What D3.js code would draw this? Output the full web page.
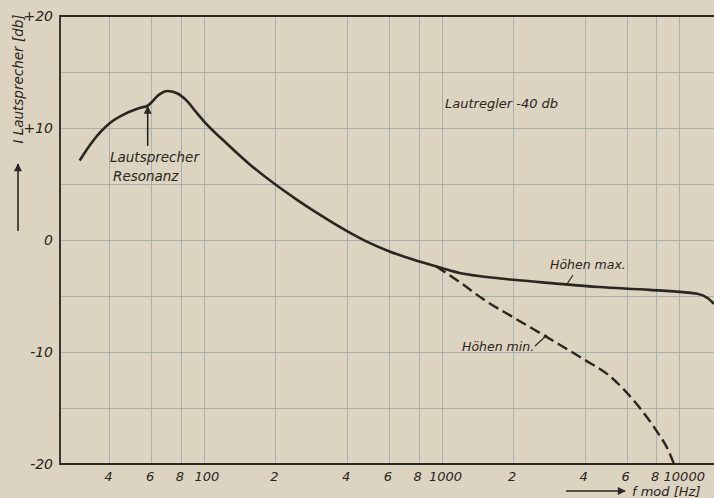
<!DOCTYPE html>
<html>
<head>
<meta charset="utf-8">
<script src="https://cdn.jsdelivr.net/npm/d3@7"></script>
<style>
  html, body { margin: 0; padding: 0; background: #dcd3c0; }
  svg { display: block; }
</style>
</head>
<body>
<svg id="chart" width="714" height="498"></svg>
<script>
// Font used for all labels (italic, like the stencil lettering)
const fontFamily = "'DejaVu Sans', 'Liberation Sans', sans-serif";
const ink = "#2a2620";

const width = 714, height = 498;
const svg = d3.select("#chart");

// Solid curve: "Höhen max." (frequency in Hz, level in dB)
const maxFreq = [30, 34, 40, 47, 54, 58, 65, 70, 77, 85, 92, 100, 125, 160, 200, 250, 300, 400, 500, 600, 800, 1000, 1190, 1550, 2000, 2900, 4600, 7500, 11900, 13200, 14000];
const maxDb   = [7.1, 8.8, 10.4, 11.3, 11.8, 12.0, 13.0, 13.3, 13.1, 12.4, 11.5, 10.6, 8.6, 6.55, 4.95, 3.5, 2.4, 0.8, -0.28, -1.0, -1.9, -2.5, -2.95, -3.3, -3.55, -3.85, -4.2, -4.45, -4.8, -5.2, -5.7];

// Dashed curve: "Höhen min."
const minFreq = [950, 1200, 1500, 2000, 3000, 4000, 5000, 6000, 7000, 8000, 9000, 9500];
const minDb   = [-2.36, -3.8, -5.3, -6.9, -9.1, -10.7, -12.0, -13.6, -15.3, -17.0, -18.8, -20];

// Axis ticks
const xTicks = [40, 60, 80, 100, 200, 400, 600, 800, 1000, 2000, 4000, 6000, 8000, 10000];
const xTickLabels = ["4", "6", "8", "100", "2", "4", "6", "8", "1000", "2", "4", "6", "8", "10000"];
const yGrid = [-20, -15, -10, -5, 0, 5, 10, 15, 20];
const yTicks = [20, 10, 0, -10, -20];
const yTickLabels = ["+20", "+10", "0", "-10", "-20"];

// Scales
const x = d3.scaleLog().domain([24.8, 14000]).range([60, 714]);
const y = d3.scaleLinear().domain([-20, 20]).range([464, 16]);

// Grid
const grid = svg.append("g").attr("stroke", "#9ea8ab").attr("stroke-width", 1).attr("opacity", 0.8);
grid.selectAll("line.v")
  .data(xTicks)
  .enter()
  .append("line")
  .attr("x1", d => Math.round(x(d)) + 0.5)
  .attr("x2", d => Math.round(x(d)) + 0.5)
  .attr("y1", y(20))
  .attr("y2", y(-20));
grid.selectAll("line.h")
  .data(yGrid)
  .enter()
  .append("line")
  .attr("x1", x.range()[0])
  .attr("x2", width)
  .attr("y1", d => Math.round(y(d)) + 0.5)
  .attr("y2", d => Math.round(y(d)) + 0.5);

// Frame: left, bottom, top
svg.append("path")
  .attr("d", `M${width},${y(20)} H${x.range()[0]} V${y(-20)} H${width}`)
  .attr("fill", "none")
  .attr("stroke", ink)
  .attr("stroke-width", 1.8);

// Y tick labels
svg.selectAll("text.ytick")
  .data(yTicks)
  .enter()
  .append("text")
  .attr("x", 53)
  .attr("y", d => y(d) + 5)
  .attr("text-anchor", "end")
  .attr("font-family", fontFamily)
  .attr("font-style", "italic")
  .attr("font-size", "14px")
  .attr("fill", ink)
  .text((d, i) => yTickLabels[i]);

// X tick labels
svg.selectAll("text.xtick")
  .data(xTicks)
  .enter()
  .append("text")
  .attr("x", (d, i) => x(d) + (xTickLabels[i].length > 1 ? xTickLabels[i].length : -1))
  .attr("y", 481)
  .attr("text-anchor", "middle")
  .attr("font-family", fontFamily)
  .attr("font-style", "italic")
  .attr("font-size", "13px")
  .attr("fill", ink)
  .text((d, i) => xTickLabels[i]);

// Curves
const line = d3.line()
  .x(d => x(d[0]))
  .y(d => y(d[1]))
  .curve(d3.curveMonotoneX);

svg.append("path")
  .datum(maxFreq.map((f, i) => [f, maxDb[i]]))
  .attr("d", line)
  .attr("fill", "none")
  .attr("stroke", ink)
  .attr("stroke-width", 2.6)
  .attr("stroke-linejoin", "round");

svg.append("path")
  .datum(minFreq.map((f, i) => [f, minDb[i]]))
  .attr("d", line)
  .attr("fill", "none")
  .attr("stroke", ink)
  .attr("stroke-width", 2.4)
  .attr("stroke-dasharray", "11,5");

// Arrow marker
const defs = svg.append("defs");
defs.append("marker")
  .attr("id", "arrow")
  .attr("viewBox", "0 0 10 10")
  .attr("refX", 9)
  .attr("refY", 5)
  .attr("markerWidth", 6)
  .attr("markerHeight", 5)
  .attr("markerUnits", "strokeWidth")
  .attr("orient", "auto")
  .append("path")
  .attr("d", "M0,0 L10,5 L0,10 Z")
  .attr("fill", ink);

function label(tx, ty, str, size, anchor) {
  svg.append("text")
    .attr("x", tx)
    .attr("y", ty)
    .attr("text-anchor", anchor || "start")
    .attr("font-family", fontFamily)
    .attr("font-style", "italic")
    .attr("font-size", size)
    .attr("fill", ink)
    .text(str);
}

// Y axis title with arrow
svg.append("text")
  .attr("transform", "translate(23,79) rotate(-90)")
  .attr("text-anchor", "middle")
  .attr("font-family", fontFamily)
  .attr("font-style", "italic")
  .attr("font-size", "13.5px")
  .attr("fill", ink)
  .text("I  Lautsprecher [db]");
svg.append("line")
  .attr("x1", 18).attr("y1", 231)
  .attr("x2", 18).attr("y2", 164)
  .attr("stroke", ink)
  .attr("stroke-width", 1.6)
  .attr("marker-end", "url(#arrow)");

// X axis title with arrow
svg.append("line")
  .attr("x1", 566).attr("y1", 491)
  .attr("x2", 625).attr("y2", 491)
  .attr("stroke", ink)
  .attr("stroke-width", 1.6)
  .attr("marker-end", "url(#arrow)");
label(632, 496, "f mod [Hz]", "13px");

// Resonance annotation
svg.append("line")
  .attr("x1", x(58)).attr("y1", 146)
  .attr("x2", x(58)).attr("y2", y(12.0) + 1)
  .attr("stroke", ink)
  .attr("stroke-width", 1.6)
  .attr("marker-end", "url(#arrow)");
label(110, 162, "Lautsprecher", "13.5px");
label(113, 181, "Resonanz", "13.5px");

label(445, 108, "Lautregler -40 db", "13px");

// Curve labels with leader lines
label(550, 269, "Höhen max.", "12.5px");
svg.append("line")
  .attr("x1", 567).attr("y1", 284)
  .attr("x2", 573).attr("y2", 275)
  .attr("stroke", ink).attr("stroke-width", 1.2);

label(462, 351, "Höhen min.", "12.5px");
svg.append("line")
  .attr("x1", 535).attr("y1", 346)
  .attr("x2", 547).attr("y2", 335)
  .attr("stroke", ink).attr("stroke-width", 1.2);
</script>
</body>
</html>
